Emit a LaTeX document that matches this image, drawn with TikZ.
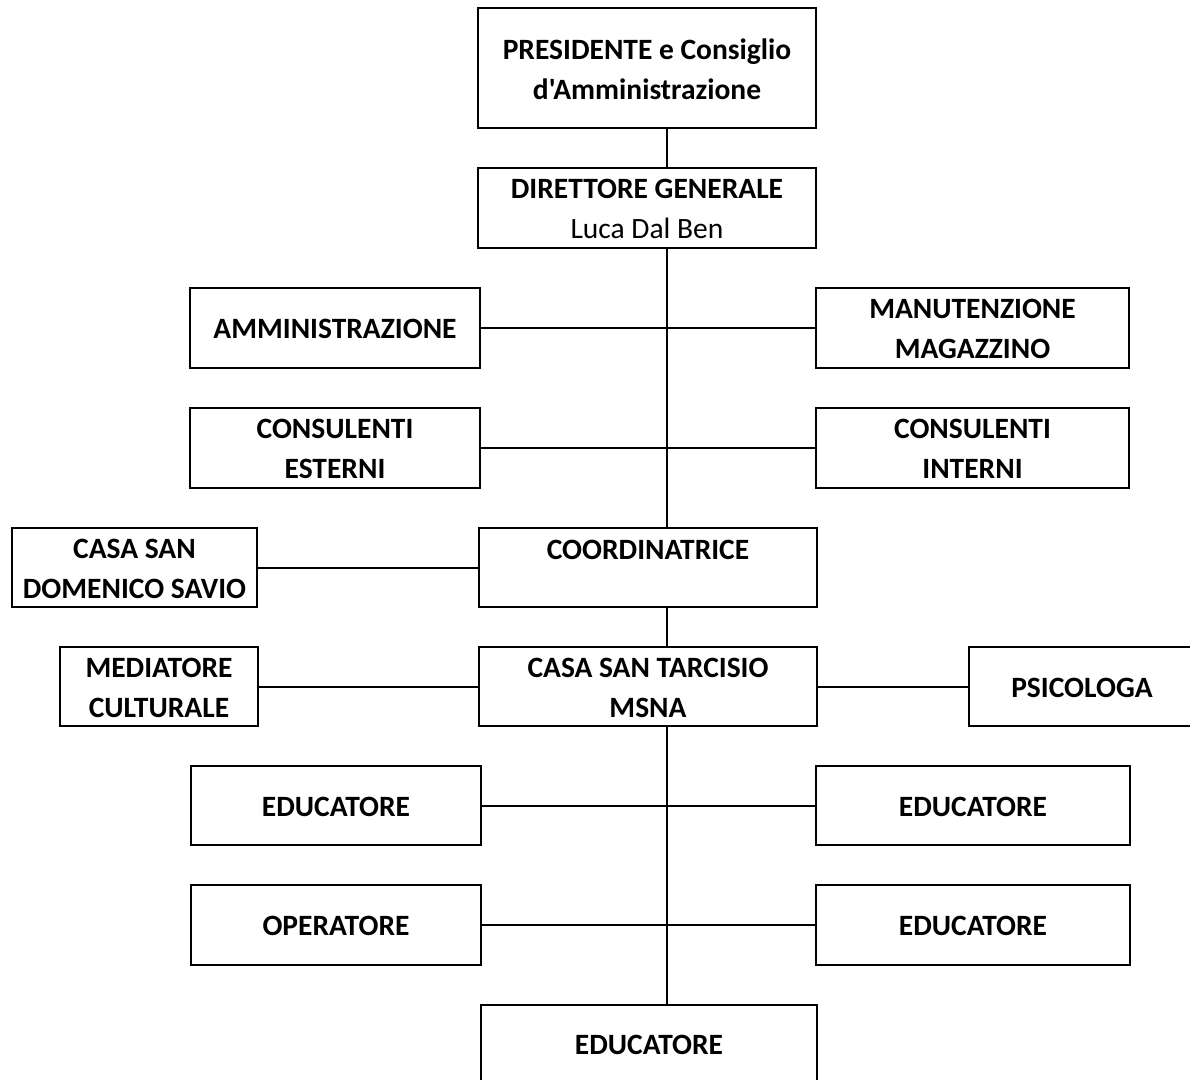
\documentclass[tikz,border=0pt]{standalone}
\usepackage{fontspec}
\newfontfamily\carl{Carlito}
\begin{document}
\begin{tikzpicture}[x=1pt,y=-1pt,
  box/.style={draw=black, line width=2pt, rectangle, inner sep=0pt},
  lbl/.style={inner sep=0pt, align=center, text=black,
    font=\carl\bfseries\fontsize{29.5}{40}\selectfont},
  txt/.style={label={[lbl, yshift=-1pt]center:{#1}}},
  txtup/.style args={#1 by #2}{label={[lbl, yshift=#2]center:{#1}}},
  link/.style={draw=black, line width=2pt}]
\useasboundingbox (0,0) rectangle (1190,1079);
\clip (0,0) rectangle (1190,1079);
\coordinate (spine) at (667,0);
\node[box, minimum width=338, minimum height=120, txt={PRESIDENTE e Consiglio\\d'Amministrazione}] (pres) at (647,68) {};
\node[box, minimum width=338, minimum height=80, txt={DIRETTORE GENERALE\\{\mdseries Luca Dal Ben}}] (dir) at (647,208) {};
\node[box, minimum width=290, minimum height=80, txt={AMMINISTRAZIONE}] (amm) at (335,328) {};
\node[box, minimum width=313, minimum height=80, txt={MANUTENZIONE\\MAGAZZINO}] (man) at (972.5,328) {};
\node[box, minimum width=290, minimum height=80, txt={CONSULENTI\\ESTERNI}] (ces) at (335,448) {};
\node[box, minimum width=313, minimum height=80, txt={CONSULENTI\\INTERNI}] (cin) at (972.5,448) {};
\node[box, minimum width=338, minimum height=79, txtup={COORDINATRICE by 17.5pt}] (coo) at (648,567.5) {};
\node[box, minimum width=245, minimum height=79, txt={CASA SAN\\DOMENICO SAVIO}] (dom) at (134.5,567.5) {};
\node[box, minimum width=338, minimum height=79, txt={CASA SAN TARCISIO\\MSNA}] (tar) at (648,686.5) {};
\node[box, minimum width=198, minimum height=79, txt={MEDIATORE\\CULTURALE}] (med) at (159,686.5) {};
\node[box, minimum width=226, minimum height=79, txt={PSICOLOGA}] (psi) at (1082,686.5) {};
\node[box, minimum width=290, minimum height=79, txt={EDUCATORE}] (edl) at (336,805.5) {};
\node[box, minimum width=314, minimum height=79, txt={EDUCATORE}] (edr) at (973,805.5) {};
\node[box, minimum width=290, minimum height=80, txt={OPERATORE}] (ope) at (336,925) {};
\node[box, minimum width=314, minimum height=80, txt={EDUCATORE}] (edr2) at (973,925) {};
\node[box, minimum width=336, minimum height=120, txtup={EDUCATORE by 20pt}] (edb) at (649,1065) {};
% spine
\draw[link] (pres.south -| spine) -- (dir.north -| spine);
\draw[link] (dir.south -| spine) -- (coo.north -| spine);
\draw[link] (coo.south -| spine) -- (tar.north -| spine);
\draw[link] (tar.south -| spine) -- (edb.north -| spine);
% branches
\draw[link] (amm.east) -- (man.west);
\draw[link] (ces.east) -- (cin.west);
\draw[link] (dom.east) -- (coo.west);
\draw[link] (med.east) -- (tar.west);
\draw[link] (tar.east) -- (psi.west);
\draw[link] (edl.east) -- (edr.west);
\draw[link] (ope.east) -- (edr2.west);
\end{tikzpicture}
\end{document}
